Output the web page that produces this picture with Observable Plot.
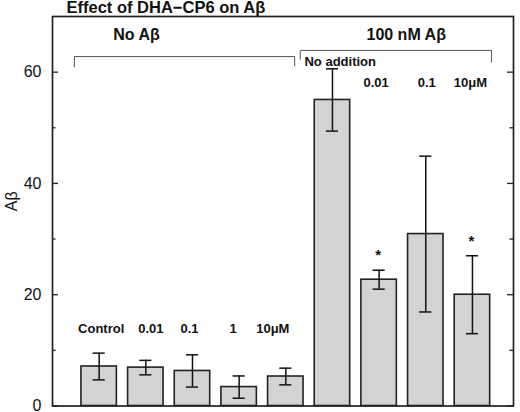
<!DOCTYPE html>
<html>
<head>
<meta charset="utf-8">
<script src="https://cdn.jsdelivr.net/npm/d3@7"></script>
<script src="https://cdn.jsdelivr.net/npm/@observablehq/plot@0.6"></script>
<style>
  html, body { margin: 0; padding: 0; background: white; }
</style>
</head>
<body>
<div id="chart"></div>
<script>
const title = "Effect of DHA\u2212CP6 on A\u03b2";
const yLabel = "A\u03b2";
const categories = ["Control", "0.01", "0.1", "1", "10\u03bcM", "No addition", "0.01", "0.1", "10\u03bcM"];
const groupOf = [0, 0, 0, 0, 0, 1, 1, 1, 1];
const groupLabels = ["No A\u03b2", "100 nM A\u03b2"];
const means = [7.1, 6.9, 6.3, 3.4, 5.3, 55.0, 22.7, 30.9, 20.0];
const errors = [2.4, 1.3, 2.9, 2.0, 1.5, 5.6, 1.7, 14.0, 7.0];
const significant = [false, false, false, false, false, false, true, false, true];
const yTicks = [0, 20, 40, 60];
const yMinorTicks = [10, 30, 50];

const data = categories.map((label, k) => ({
  i: k + 1,
  label,
  group: groupOf[k],
  mean: means[k],
  err: errors[k],
  sig: significant[k]
}));

// group brackets (annotation, in data units of the chart)
const brackets = [
  {label: groupLabels[0], x1: 0.47, x2: 5.19, top: 62.8, dropL: 60.95, dropR: 61.1, lx: 1.8},
  {label: groupLabels[1], x1: 5.31, x2: 9.41, top: 63.9, dropL: 62.3, dropR: 61.8, lx: 7.58}
];
const bracketPts = brackets.flatMap((b, g) => [
  {g, x: b.x1, y: b.dropL}, {g, x: b.x1, y: b.top}, {g, x: b.x2, y: b.top}, {g, x: b.x2, y: b.dropR}
]);

const W = 520, H = 412, mL = 52, mR = 7, mT = 16, mB = 6.5;
const plotW = W - mL - mR;
const font = "'Liberation Sans', Arial, Helvetica, sans-serif";
// small pixel nudges of the bar labels, as placed in the original figure
const labelNudge = [2, 5, -3, -6, -13, 0, -3, 1, -2];

const labelStyle = {fontSize: 13, fontWeight: "bold", fill: "#111"};

const chart = Plot.plot({
  width: W,
  height: H,
  marginLeft: mL,
  marginRight: mR,
  marginTop: mT,
  marginBottom: mB,
  style: {fontFamily: font, background: "white", color: "#111"},
  x: {domain: [0, 9.88], axis: null},
  y: {domain: [0, 70], axis: null},
  marks: [
    Plot.rectY(data, {x1: d => d.i - 0.38, x2: d => d.i + 0.38, y1: 0, y2: "mean", fill: "#d3d3d3", stroke: "#222", strokeWidth: 1.6}),
    Plot.ruleX(data, {x: "i", y1: d => d.mean - d.err, y2: d => d.mean + d.err, stroke: "#111", strokeWidth: 1.5}),
    Plot.ruleY(data, {y: d => d.mean + d.err, x1: d => d.i - 0.13, x2: d => d.i + 0.13, stroke: "#111", strokeWidth: 1.5}),
    Plot.ruleY(data, {y: d => d.mean - d.err, x1: d => d.i - 0.13, x2: d => d.i + 0.13, stroke: "#111", strokeWidth: 1.5}),
    Plot.text(data.filter(d => d.sig), {x: "i", y: d => d.mean + d.err, text: () => "*", dx: -1, dy: -10, lineAnchor: "bottom", fontSize: 15, fontWeight: "bold", fill: "#111"}),
    // y ticks (inward, both sides)
    Plot.ruleY(yTicks, {y: d => d, insetRight: plotW - 6, stroke: "#222", strokeWidth: 1.3}),
    Plot.ruleY(yTicks, {y: d => d, insetLeft: plotW - 6, stroke: "#222", strokeWidth: 1.3}),
    Plot.ruleY(yMinorTicks, {y: d => d, insetRight: plotW - 3.5, stroke: "#222", strokeWidth: 1.3}),
    Plot.ruleY(yMinorTicks, {y: d => d, insetLeft: plotW - 3.5, stroke: "#222", strokeWidth: 1.3}),
    Plot.axisY(yTicks, {tickSize: 0, tickPadding: 11, fontSize: 16, fill: "#111"}),
    Plot.text([yLabel], {frameAnchor: "left", dx: -41, rotate: -90, fontSize: 16, fill: "#111"}),
    Plot.frame({stroke: "#222", strokeWidth: 1.7}),
    // brackets
    Plot.line(bracketPts, {x: "x", y: "y", z: "g", stroke: "#555", strokeWidth: 1}),
    Plot.text(brackets, {x: "lx", y: 66.7, text: "label", fontSize: 16, fontWeight: "bold", fill: "#111"}),
    // bar labels
    ...data.filter(d => d.i !== 6).map(d =>
      Plot.text([d], {x: "i", y: d.group === 0 ? 13.8 : 58, text: "label", dx: labelNudge[d.i - 1], ...labelStyle})
    ),
    Plot.text(data.filter(d => d.i === 6), {x: d => d.i - 0.6, y: 61.8, text: "label", textAnchor: "start", ...labelStyle}),
    // title
    Plot.text([title], {frameAnchor: "top-left", dx: 14, dy: -3.5, lineAnchor: "bottom", textAnchor: "start", fontSize: 16.5, fontWeight: "bold", fill: "#111", ariaLabel: "chart-title"})
  ]
});
d3.select(chart).selectAll('g[aria-label="chart-title"] text').attr("letter-spacing", "0.45px");
document.getElementById("chart").appendChild(chart);
</script>
</body>
</html>
